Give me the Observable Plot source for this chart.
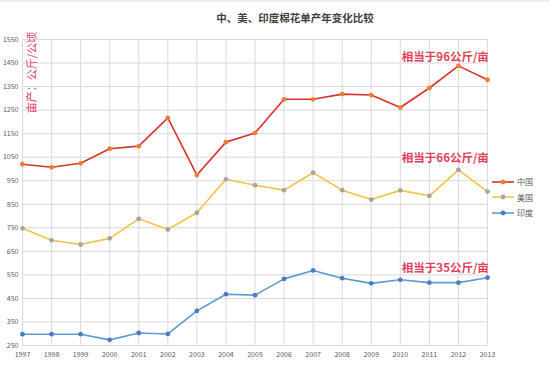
<!DOCTYPE html>
<html>
<head>
<meta charset="utf-8">
<script src="https://cdn.jsdelivr.net/npm/d3@7"></script>
<script src="https://cdn.jsdelivr.net/npm/@observablehq/plot@0.6"></script>
<style>
  body { margin: 0; background: #fff; font-family: "Noto Sans CJK SC", "Noto Sans", sans-serif; }
  #wrap { position: relative; width: 550px; height: 367px; overflow: hidden; border-top: 2px solid #eeeeee; box-sizing: border-box; }
  #title { height: 26px; line-height: 31px; font-size: 10.5px; font-weight: bold; color: #404040; text-align: center; padding-left: 40px; }
  #legend { position: absolute; left: 491px; top: 172px; font-size: 8px; color: #595959; }
  #legend .row { display: flex; align-items: center; height: 15.5px; }
  #legend svg { margin-right: 2px; }
</style>
</head>
<body>
<div id="wrap">
  <div id="title">中、美、印度棉花单产年变化比较</div>
  <div id="chart"></div>
  <div id="legend"></div>
</div>
<script>
const years = [1997,1998,1999,2000,2001,2002,2003,2004,2005,2006,2007,2008,2009,2010,2011,2012,2013];
const china = [1020,1007,1024,1086,1097,1217,974,1114,1153,1296,1296,1318,1314,1261,1344,1438,1379];
const usa   = [748,697,679,705,788,743,814,956,931,910,984,910,870,909,886,996,904];
const india = [298,298,298,274,303,299,397,468,464,533,569,536,514,529,517,517,538];
const seriesNames = ["中国","美国","印度"];
const lineColors = ["#d9312b","#f5c342","#5b9bd5"];
const dotColors = ["#ed7d31","#a5a5a5","#4a7ebf"];
const yTicks = d3.range(250, 1551, 100);
const annoText = ["相当于96公斤/亩","相当于66公斤/亩","相当于35公斤/亩"];
const annoYear = [2011.55, 2011.55, 2011.55];
const annoValue = [1474, 1046, 580];
const yTitle = "亩产：公斤/公顷";

const allSeries = [china, usa, india];
const rows = [];
allSeries.forEach((vals, si) => vals.forEach((v, i) => rows.push({year: years[i], value: v, series: seriesNames[si]})));
const annos = annoText.map((t, i) => ({text: t, year: annoYear[i], value: annoValue[i]}));

const marks = [
  Plot.gridY(yTicks, {stroke: "#dadada", strokeOpacity: 1, strokeWidth: 1}),
  Plot.gridX(years, {stroke: "#dadada", strokeOpacity: 1, strokeWidth: 1}),
  Plot.axisY(yTicks, {tickSize: 0, tickPadding: 4, fontSize: 7, fill: "#595959", label: null, tickFormat: d => String(d)}),
  Plot.axisX(years, {tickSize: 0, tickPadding: 7, fontSize: 7, fill: "#595959", label: null, tickFormat: d => String(d)})
];
seriesNames.forEach((name, si) => {
  const data = rows.filter(r => r.series === name);
  marks.push(Plot.line(data, {x: "year", y: "value", stroke: lineColors[si], strokeWidth: 1.6}));
  marks.push(Plot.dot(data, {x: "year", y: "value", fill: dotColors[si], r: 2.4}));
});
marks.push(Plot.text(annos, {x: "year", y: "value", text: "text", fill: "#e0405a", fontSize: 11.5, fontWeight: 600, fontFamily: "Noto Sans CJK SC"}));
marks.push(Plot.text([yTitle], {frameAnchor: "top-left", text: d => d, rotate: -90, dx: 6, dy: 33, textAnchor: "middle", fill: "#e0405a", fontSize: 11, fontFamily: "Noto Sans CJK SC"}));

const chart = Plot.plot({
  width: 550,
  height: 339,
  marginTop: 11,
  marginBottom: 22,
  marginLeft: 22,
  marginRight: 63,
  style: {background: "#fff", fontFamily: "Noto Sans CJK SC, sans-serif"},
  x: {domain: [1997, 2013], axis: null},
  y: {domain: [250, 1550], axis: null},
  marks
});
document.getElementById("chart").appendChild(chart);

const legend = document.getElementById("legend");
seriesNames.forEach((name, si) => {
  const row = document.createElement("div");
  row.className = "row";
  row.innerHTML = `<svg width="24" height="8"><line x1="1" y1="4" x2="23" y2="4" stroke="${lineColors[si]}" stroke-width="1.6"/><circle cx="12" cy="4" r="2.4" fill="${dotColors[si]}"/></svg><span>${name}</span>`;
  legend.appendChild(row);
});
</script>
</body>
</html>
